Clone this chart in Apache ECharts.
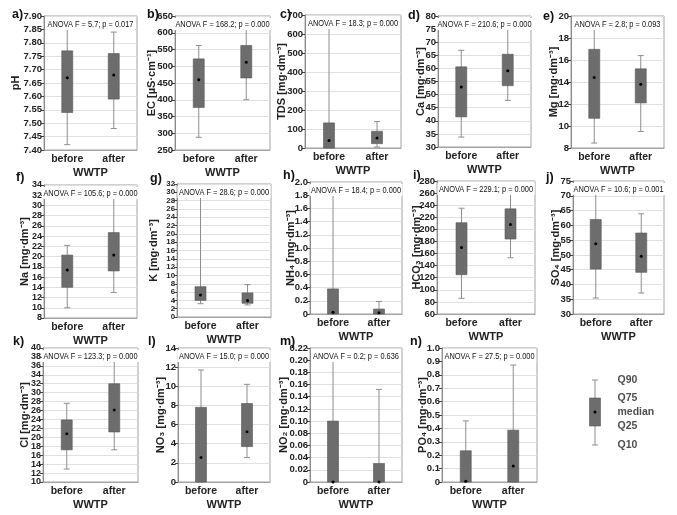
<!DOCTYPE html>
<html>
<head>
<meta charset="utf-8">
<script src="https://cdn.jsdelivr.net/npm/echarts@6/dist/echarts.min.js"></script>
<style>
html, body { margin: 0; padding: 0; background: #fff; }
#chart { width: 677px; height: 515px; }
</style>
</head>
<body>
<div id="chart"></div>
<script>
"use strict"

// box values per group: [Q10, Q25, median, Q75, Q90]
const categories = ["before", "after"];
const pH   = [[7.42, 7.54, 7.67, 7.77, 7.85], [7.48, 7.59, 7.68, 7.76, 7.84]];
const EC   = [[288, 377, 460, 522, 562], [400, 465, 512, 562, 610]];
const TDS  = [[0, 0, 40, 132, 645], [5, 23, 53, 88, 139]];
const Ca   = [[33.8, 41.5, 52.9, 60.6, 66.9], [47.8, 53.4, 59.1, 65.4, 75.0]];
const Mg   = [[8.45, 10.7, 14.4, 16.97, 19.15], [9.5, 12.1, 13.8, 15.2, 16.4]];
const Na   = [[10.0, 14.0, 17.4, 20.3, 22.2], [13.0, 17.2, 20.3, 24.7, 32.0]];
const K    = [[3.2, 4.0, 5.3, 7.3, 29.3], [2.9, 3.3, 4.0, 5.8, 7.8]];
const NH4  = [[0, 0, 0.025, 0.38, 1.85], [0, 0, 0.02, 0.075, 0.19]];
const HCO3 = [[86, 125, 170, 211, 235], [153, 184, 208, 234, 262]];
const SO4  = [[35.4, 45.2, 53.8, 62.0, 70.7], [37.1, 44.1, 49.5, 57.4, 63.9]];
const Cl   = [[12.9, 17.2, 20.8, 23.9, 27.6], [17.2, 21.2, 26.1, 32.0, 38.6]];
const NO3  = [[0, 0, 2.55, 7.8, 11.7], [2.55, 3.7, 5.25, 8.2, 10.2]];
const NO2  = [[0, 0, 0, 0.1, 0.198], [0, 0, 0, 0.0305, 0.152]];
const PO4  = [[0, 0, 0.005, 0.233, 0.456], [0, 0, 0.12, 0.387, 0.873]];
const panels = [pH, EC, TDS, Ca, Mg, Na, K, NH4, HCO3, SO4, Cl, NO3, NO2, PO4];

const letters = ["a)", "b)", "c)", "d)", "e)", "f)", "g)", "h)", "i)", "j)", "k)", "l)", "m)", "n)"];
const yNames = ["pH", "EC [µS·cm⁻¹]", "TDS [mg·dm⁻³]", "Ca [mg·dm⁻³]", "Mg [mg·dm⁻³]",
    "Na [mg·dm⁻³]", "K [mg·dm⁻³]", "NH₄ [mg·dm⁻³]", "HCO₃ [mg·dm⁻³]", "SO₄ [mg·dm⁻³]",
    "Cl [mg·dm⁻³]", "NO₃ [mg·dm⁻³]", "NO₂ [mg·dm⁻³]", "PO₄ [mg·dm⁻³]"];
const anovaF = ["5.7", "168.2", "18.3", "210.6", "2.8", "105.6", "28.6", "18.4", "229.1", "10.6", "123.3", "15.0", "0.2", "27.5"];
const anovaP = ["0.017", "0.000", "0.000", "0.000", "0.093", "0.000", "0.000", "0.000", "0.000", "0.001", "0.000", "0.000", "0.636", "0.000"];
const yMin  = [7.4, 250, 0, 30, 8, 8, 0, 0, 60, 30, 10, 0, 0, 0];
const yMax  = [7.9, 650, 700, 80, 20, 34, 32, 2, 280, 75, 40, 14, 0.22, 1];
const yStep = [0.05, 50, 100, 5, 2, 2, 2, 0.2, 20, 5, 2, 2, 0.02, 0.1];
const yDec  = [2, 0, 0, 0, 0, 0, 0, 1, 0, 0, 0, 0, 2, 1];

// legend key box and its labels
const legendBox = [0, 19, 33, 47, 65];
const legendLabels = ["Q10", "Q25", "median", "Q75", "Q90"];

// layout: [left, top, width, height]
const boxes = [
    [44, 16, 93, 134], [175, 16, 95, 134], [305, 15, 96, 133], [438, 16, 93, 131], [571, 16, 93, 132],
    [44, 185, 93, 133], [177, 184, 94, 133], [310, 182, 92, 132], [437, 181, 98, 133], [573, 181, 91, 133],
    [43, 348, 95, 134], [178, 348, 92, 134], [310, 348, 92, 134], [442, 348, 95, 134]
];
const nameGaps = [23, 18, 18, 12, 12, 14, 18, 14, 15, 12, 13, 12, 21, 14];
const letterPos = [[12, 8], [147, 8], [280, 8], [408, 9], [543, 10], [16, 171], [150, 172], [283, 169],
    [413, 169], [546, 171], [13, 335], [148, 335], [280, 335], [410, 335]];
const labelSize = [9.5, 9.5, 9.5, 9.5, 9.5, 9, 7.8, 9.5, 9.5, 9.5, 9, 9.5, 9.5, 9.5];

const FONT = "'Liberation Sans', Arial, sans-serif";

function renderBox(params, api)
{
    const x = api.value(0);
    const lo = api.coord([x, api.value(1)]);
    const q1 = api.coord([x, api.value(2)]);
    const md = api.coord([x, api.value(3)]);
    const q3 = api.coord([x, api.value(4)]);
    const hi = api.coord([x, api.value(5)]);
    const bw = 11, cw = 6;
    const wstyle = { stroke: "#8e8e8e", lineWidth: 1 };
    return {
        type: "group",
        children: [
            { type: "line", shape: { x1: hi[0], y1: hi[1], x2: lo[0], y2: lo[1] }, style: wstyle },
            { type: "line", shape: { x1: hi[0] - cw / 2, y1: hi[1], x2: hi[0] + cw / 2, y2: hi[1] }, style: wstyle },
            { type: "line", shape: { x1: lo[0] - cw / 2, y1: lo[1], x2: lo[0] + cw / 2, y2: lo[1] }, style: wstyle },
            {
                type: "rect",
                shape: { x: q3[0] - bw / 2, y: q3[1], width: bw, height: Math.max(q1[1] - q3[1], 0.5) },
                style: { fill: "#6d6d6d", stroke: "#585858", lineWidth: 0.6 }
            },
            { type: "circle", shape: { cx: md[0], cy: md[1], r: 1.5 }, style: { fill: "#000" } }
        ]
    };
}

const grids = [], xAxes = [], yAxes = [], series = [], graphics = [];

panels.forEach((pan, i) =>
{
    const [l, t, w, h] = boxes[i];
    grids.push({ left: l, top: t, width: w, height: h, show: true, borderColor: "#a3a3a3", borderWidth: 1 });
    xAxes.push({
        gridIndex: i, type: "category", data: categories,
        axisTick: { show: false },
        axisLine: { lineStyle: { color: "#a3a3a3" } },
        axisLabel: { margin: 4, fontSize: 10.5, fontWeight: "bold", color: "#222", fontFamily: FONT },
        name: "WWTP", nameLocation: "middle", nameGap: 17, nameMoveOverlap: false,
        nameTextStyle: { fontSize: 11, fontWeight: "bold", color: "#222", fontFamily: FONT }
    });
    const dec = yDec[i];
    yAxes.push({
        gridIndex: i, type: "value", min: yMin[i], max: yMax[i], interval: yStep[i],
        axisLine: { show: true, lineStyle: { color: "#8a8a8a" } },
        axisTick: { show: true, length: 3, lineStyle: { color: "#444" } },
        splitLine: { lineStyle: { color: "#e0e0e0" } },
        axisLabel: {
            margin: 2, fontSize: labelSize[i], lineHeight: 6,
            fontWeight: "bold", color: "#222", fontFamily: FONT,
            showMinLabel: true, showMaxLabel: true, hideOverlap: false,
            formatter: v => (Math.abs(v) < 1e-9 ? "0" : v.toFixed(dec))
        },
        name: yNames[i], nameLocation: "middle", nameGap: nameGaps[i], nameMoveOverlap: false,
        nameTextStyle: { fontSize: 11, fontWeight: "bold", color: "#222", fontFamily: FONT }
    });
    series.push({
        type: "custom", xAxisIndex: i, yAxisIndex: i, renderItem: renderBox,
        encode: { x: 0, y: [1, 2, 3, 4, 5] },
        data: pan.map((v, k) => [k].concat(v)),
        silent: true
    });
    graphics.push({
        type: "text", x: l + w / 2, y: t + 2, z: 10, scaleX: 0.78,
        style: {
            text: `ANOVA F = ${anovaF[i]}; p = ${anovaP[i]}`, align: "center", verticalAlign: "top",
            font: `9.5px ${FONT}`, fill: "#111", backgroundColor: "#fff", padding: [1, 2]
        }
    });
    graphics.push({
        type: "text", x: letterPos[i][0], y: letterPos[i][1],
        style: { text: letters[i], font: `bold 12.5px ${FONT}`, fill: "#111" }
    });
});

// legend key
const li = panels.length;
grids.push({ left: 575, top: 370, width: 40, height: 85, show: false });
xAxes.push({ gridIndex: li, type: "category", data: [""], show: false });
yAxes.push({ gridIndex: li, type: "value", min: -10, max: 75, show: false });
series.push({
    type: "custom", xAxisIndex: li, yAxisIndex: li, renderItem: renderBox,
    encode: { x: 0, y: [1, 2, 3, 4, 5] },
    data: [[0].concat(legendBox)], silent: true
});
series.push({
    type: "scatter", xAxisIndex: li, yAxisIndex: li, symbolSize: 1,
    itemStyle: { color: "rgba(0,0,0,0)" },
    data: legendBox.map((v, k) => ({ value: [0, v], name: legendLabels[k] })),
    label: {
        show: true, position: "right", distance: 22, formatter: p => p.name,
        fontSize: 10.5, fontWeight: "bold", color: "#222", fontFamily: FONT
    },
    silent: true
});

const myChart = echarts.init(document.getElementById("chart"), null, { renderer: "canvas" });
myChart.setOption({
    animation: false,
    backgroundColor: "#fff",
    grid: grids,
    xAxis: xAxes,
    yAxis: yAxes,
    series: series,
    graphic: graphics
});
</script>
</body>
</html>
